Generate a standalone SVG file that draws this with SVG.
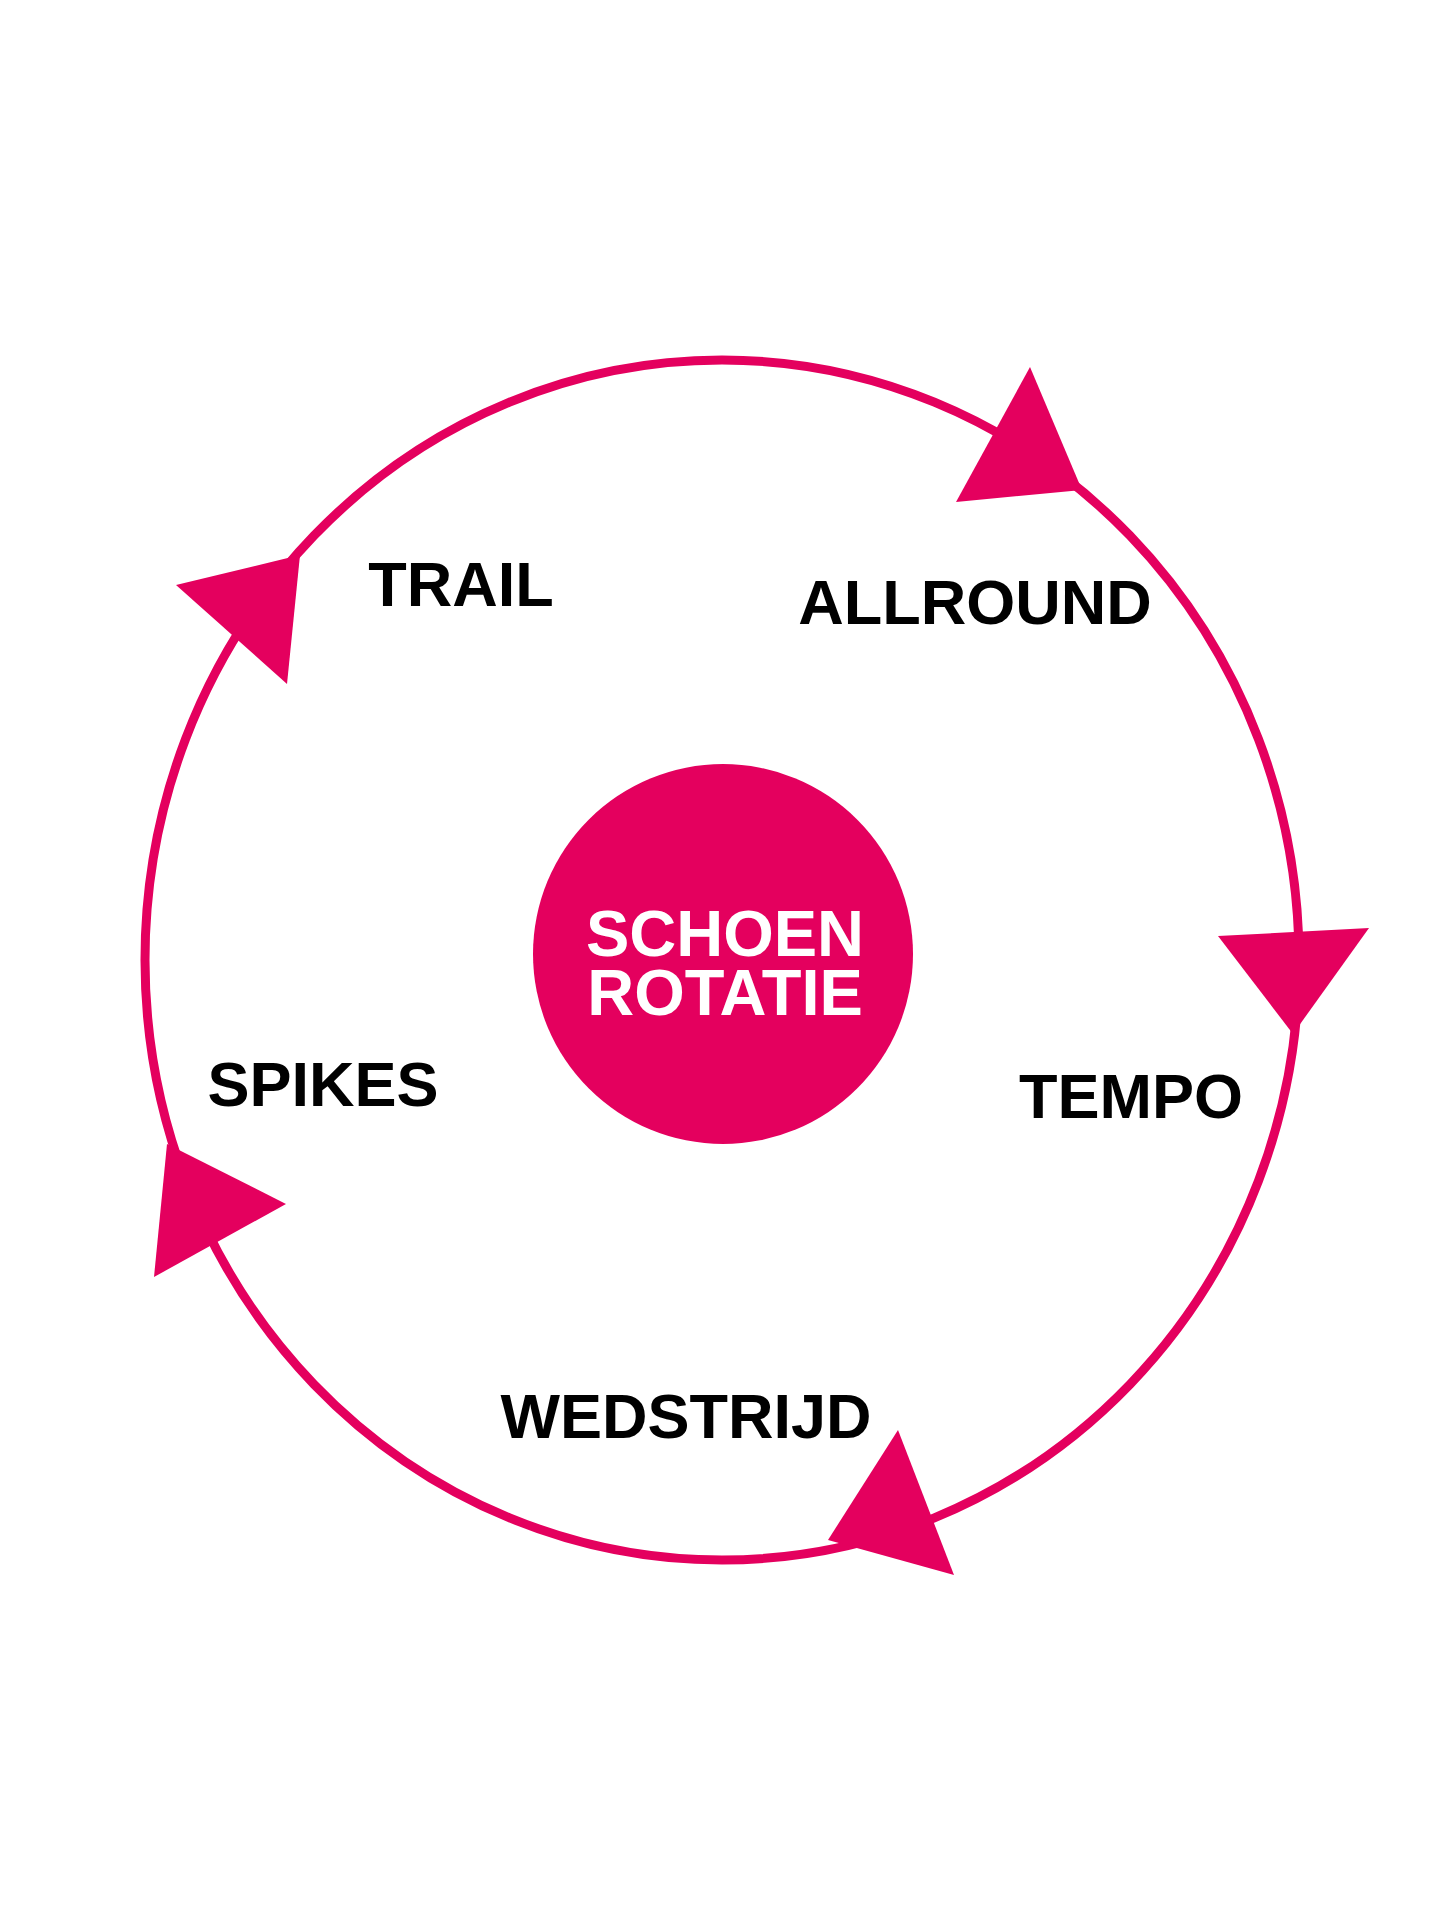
<svg xmlns="http://www.w3.org/2000/svg" width="1440" height="1917" viewBox="0 0 1440 1917">
<style>
.lbl{font-family:"Liberation Sans",Arial,sans-serif;font-weight:bold;font-size:63px;fill:#000;text-anchor:middle}
.ctr{font-family:"Liberation Sans",Arial,sans-serif;font-weight:bold;font-size:65px;fill:#fff;text-anchor:middle}
.arr{fill:#E4005E}
</style>
<rect width="1440" height="1917" fill="#fff"/>
<g id="connectors">
<ellipse cx="722" cy="960" rx="577" ry="600" fill="none" stroke="#E4005E" stroke-width="9"/>
<polygon class="arr" points="1030,367 956,502 1082,490"/>
<polygon class="arr" points="1218,936 1369,928 1293,1034"/>
<polygon class="arr" points="898,1430 828,1540 954,1575"/>
<polygon class="arr" points="167,1144 154,1277 286,1204"/>
<polygon class="arr" points="176,585 300,555 287,684"/>
</g>
<g id="center"><circle cx="723" cy="954" r="190" fill="#E4005E"/>
<text class="ctr" x="725" y="956">SCHOEN</text><text class="ctr" x="725" y="1015">ROTATIE</text></g>
<g id="trail"><text class="lbl" x="461" y="606">TRAIL</text></g>
<g id="allround"><text class="lbl" x="975" y="624">ALLROUND</text></g>
<g id="tempo"><text class="lbl" x="1131" y="1118">TEMPO</text></g>
<g id="spikes"><text class="lbl" x="323" y="1106">SPIKES</text></g>
<g id="wedstrijd"><text class="lbl" x="686" y="1438">WEDSTRIJD</text></g>
</svg>
